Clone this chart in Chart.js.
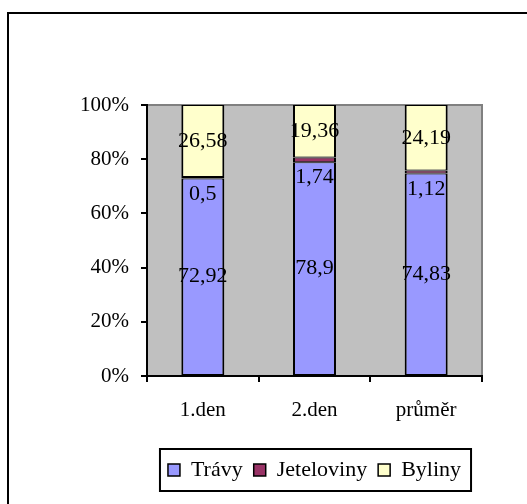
<!DOCTYPE html>
<html>
<head>
<meta charset="utf-8">
<script src="https://cdn.jsdelivr.net/npm/chart.js@4/dist/chart.umd.min.js"></script>
<style>
  html, body { margin: 0; padding: 0; background: #fff; overflow: hidden; }
  #wrap { width: 527px; height: 504px; }
</style>
</head>
<body>
<div id="wrap"><canvas id="myChart" width="527" height="504"></canvas></div>
<script>
let categories = ['1.den', '2.den', 'průměr'];
let travy = [72.92, 78.9, 74.83];
let jeteloviny = [0.5, 1.74, 1.12];
let byliny = [26.58, 19.36, 24.19];
let yTicks = [0, 20, 40, 60, 80, 100];

const family = "'Liberation Serif', 'Times New Roman', serif";
const tickFont = { family: family, size: 21 };
const legendFont = { family: family, size: 22 };
const labelSize = 22;

// 100 % stacked: every column is scaled to its own total
let totals = categories.map((c, i) => travy[i] + jeteloviny[i] + byliny[i]);
function share(arr) {
    return arr.map((v, i) => v / totals[i] * 100);
}

const plotBack = {
    id: 'plotBack',
    beforeDraw(chart) {
        const { ctx, chartArea: a } = chart;
        ctx.save();
        // outer frame
        ctx.strokeStyle = '#000';
        ctx.lineWidth = 2;
        ctx.strokeRect(8, 13, 600, 600);
        // grey plot area
        ctx.fillStyle = '#c0c0c0';
        ctx.fillRect(a.left, a.top, a.right - a.left, a.bottom - a.top);
        ctx.strokeStyle = '#808080';
        ctx.lineWidth = 2;
        ctx.beginPath();
        ctx.moveTo(a.left, a.top);
        ctx.lineTo(a.right, a.top);
        ctx.lineTo(a.right, a.bottom);
        ctx.stroke();
        ctx.restore();
    }
};

const valueLabels = {
    id: 'valueLabels',
    afterDatasetsDraw(chart) {
        const ctx = chart.ctx;
        ctx.save();
        ctx.font = labelSize + 'px ' + family;
        ctx.fillStyle = '#000';
        ctx.textAlign = 'center';
        ctx.textBaseline = 'middle';
        chart.data.datasets.forEach((ds, di) => {
            const meta = chart.getDatasetMeta(di);
            meta.data.forEach((bar, i) => {
                const y = (bar.y + bar.base) / 2 + (ds.labelShift || 0);
                const txt = String(ds.values[i]).replace('.', ',');
                ctx.fillText(txt, bar.x, y);
            });
        });
        ctx.restore();
    }
};

const legendFrame = {
    id: 'legendFrame',
    afterDraw(chart) {
        const boxes = chart.legend.legendHitBoxes;
        if (!boxes || !boxes.length) return;
        const ctx = chart.ctx;
        let left = Math.min(...boxes.map(b => b.left)) - 8;
        let right = Math.max(...boxes.map(b => b.left + b.width)) + 10;
        let mid = boxes[0].top + boxes[0].height / 2;
        ctx.save();
        ctx.strokeStyle = '#000';
        ctx.lineWidth = 2;
        ctx.strokeRect(left, mid - 21, right - left, 42);
        ctx.restore();
    }
};

// thin seams between stacked parts, heavier sides
const barBorder = { top: 1, bottom: 1, left: 2, right: 2 };

const ctx = document.getElementById('myChart').getContext('2d');
const myChart = new Chart(ctx, {
    type: 'bar',
    data: {
        labels: categories,
        datasets: [{
            label: 'Trávy',
            data: share(travy),
            values: travy,
            backgroundColor: '#9999ff',
            borderColor: '#000',
            borderWidth: barBorder,
            borderSkipped: false
        }, {
            label: 'Jeteloviny',
            data: share(jeteloviny),
            values: jeteloviny,
            labelShift: 17,
            backgroundColor: '#993366',
            borderColor: '#000',
            borderWidth: barBorder,
            borderSkipped: false
        }, {
            label: 'Byliny',
            data: share(byliny),
            values: byliny,
            backgroundColor: '#ffffcc',
            borderColor: '#000',
            borderWidth: barBorder,
            borderSkipped: false
        }]
    },
    options: {
        responsive: false,
        animation: false,
        devicePixelRatio: 1,
        layout: { padding: { top: 105, left: 0, right: 45, bottom: 13 } },
        datasets: {
            bar: { barPercentage: 0.385, categoryPercentage: 1 }
        },
        scales: {
            x: {
                stacked: true,
                grid: { offset: true, drawOnChartArea: false, color: '#000', lineWidth: 2, tickLength: 6 },
                border: { color: '#000', width: 2 },
                ticks: { color: '#000', font: tickFont, padding: 16 },
                afterFit(scale) { scale.height = 72; }
            },
            y: {
                stacked: true,
                min: 0,
                max: 100,
                afterBuildTicks(scale) { scale.ticks = yTicks.map(v => ({ value: v })); },
                grid: { drawOnChartArea: false, color: '#000', lineWidth: 2, tickLength: 6 },
                border: { color: '#000', width: 2 },
                ticks: { color: '#000', font: tickFont, padding: 12, callback: v => v + '%' },
                afterFit(scale) { scale.width = 147; }
            }
        },
        plugins: {
            legend: {
                position: 'bottom',
                fullSize: false,
                labels: {
                    color: '#000',
                    font: legendFont,
                    boxWidth: 12,
                    boxHeight: 12,
                    padding: 11
                }
            },
            tooltip: { enabled: false }
        }
    },
    plugins: [plotBack, valueLabels, legendFrame]
});
</script>
</body>
</html>
